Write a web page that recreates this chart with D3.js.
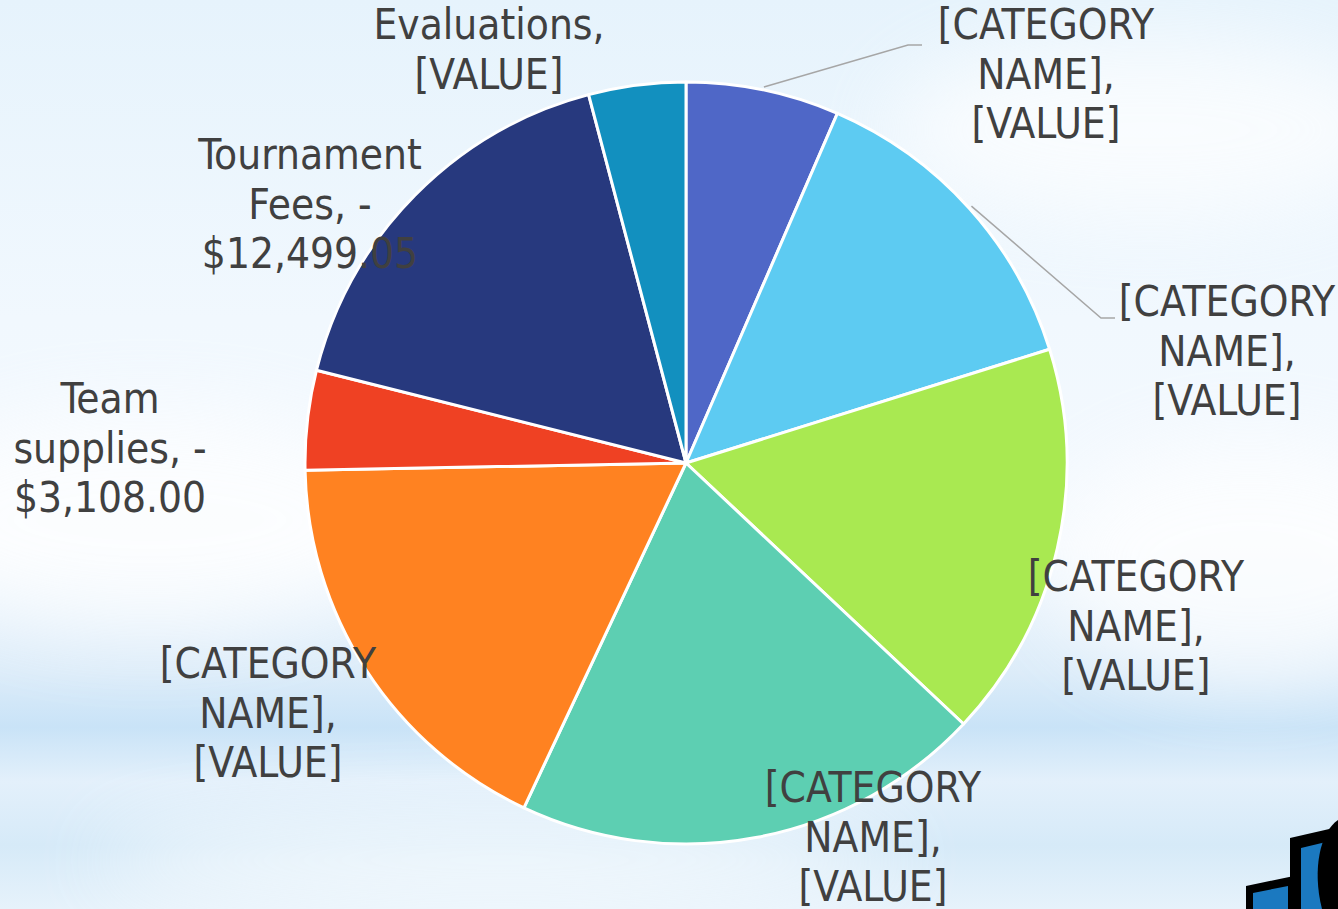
<!DOCTYPE html>
<html>
<head>
<meta charset="utf-8">
<script src="https://cdn.jsdelivr.net/npm/d3@7"></script>
<style>
  html, body { margin: 0; padding: 0; overflow: hidden; }
  svg { display: block; }
  .lbl { font-family: "Liberation Sans Narrow", "DejaVu Sans Condensed", "Open Sans", sans-serif; font-size: 42px; fill: #404040; }
</style>
</head>
<body>
<div id="chart"></div>
<script>
// slices, clockwise from 12 o'clock
const categories = ["[CATEGORY NAME]", "[CATEGORY NAME]", "[CATEGORY NAME]", "[CATEGORY NAME]",
  "[CATEGORY NAME]", "Team supplies", "Tournament Fees", "Evaluations"];
const values = [-4790, -10070, -12400, -14720, -13040, -3108.00, -12499.05, -3030];
// label text as shown (placeholders kept as in the picture)
const labelLines = [
  ["[CATEGORY", "NAME],", "[VALUE]"],
  ["[CATEGORY", "NAME],", "[VALUE]"],
  ["[CATEGORY", "NAME],", "[VALUE]"],
  ["[CATEGORY", "NAME],", "[VALUE]"],
  ["[CATEGORY", "NAME],", "[VALUE]"],
  ["Team", "supplies, -", "$3,108.00"],
  ["Tournament", "Fees, -", "$12,499.05"],
  ["Evaluations,", "[VALUE]"]
];
const colors = ["#4F67C7", "#5DCBF2", "#A9E951", "#5DCFB2", "#FF8221", "#EF4123", "#27397E", "#1290BF"];

const width = 1338, height = 909;
const cx = 686, cy = 463, radius = 381;
const lineH = 49.5;

// label anchor (centre of first line baseline) relative to pie centre
const labelOffsets = [[360, -424], [541, -147], [450, 128], [187, 339], [-418, 215], [-576, -50], [-376, -294], [-197, -424]];
// leader lines: [label side x offset, label side y offset]
const leaders = { 0: [236, -418], 1: [429, -145] };

const svg = d3.select("#chart").append("svg")
  .attr("width", width)
  .attr("height", height);

// slide background
const defs = svg.append("defs");
const bg = defs.append("linearGradient").attr("id", "bg").attr("x1", 0).attr("y1", 0).attr("x2", 0).attr("y2", 1);
[[0, "#e6f3fc"], [0.35, "#f1f8fe"], [0.6, "#f4f9fe"], [0.74, "#dcecf9"], [0.8, "#c9e3f7"], [0.86, "#e3f0fb"], [0.93, "#d6eaf8"], [1, "#e6f2fb"]]
  .forEach(s => bg.append("stop").attr("offset", s[0]).attr("stop-color", s[1]));
const blur = defs.append("filter").attr("id", "blur").attr("x", "-50%").attr("y", "-50%").attr("width", "200%").attr("height", "200%");
blur.append("feGaussianBlur").attr("stdDeviation", 40);

svg.append("rect").attr("width", width).attr("height", height).attr("fill", "url(#bg)");
const clouds = svg.append("g").attr("filter", "url(#blur)").attr("fill", "#ffffff").attr("opacity", 0.7);
clouds.append("ellipse").attr("cx", 1150).attr("cy", 130).attr("rx", 260).attr("ry", 90);
clouds.append("ellipse").attr("cx", 150).attr("cy", 520).attr("rx", 260).attr("ry", 110);
clouds.append("ellipse").attr("cx", 1250).attr("cy", 560).attr("rx", 200).attr("ry", 120);
clouds.append("ellipse").attr("cx", 500).attr("cy", 860).attr("rx", 400).attr("ry", 40);

// logo fragment, bottom right
const logo = svg.append("g");
logo.append("path").attr("d", "M1246,886 L1294,876 L1294,909 L1246,909 Z").attr("fill", "#000");
logo.append("path").attr("d", "M1253,893 L1288,886 L1288,909 L1253,909 Z").attr("fill", "#1b79c0");
logo.append("path").attr("d", "M1290,838 L1338,827 L1338,909 L1290,909 Z").attr("fill", "#000");
logo.append("path").attr("d", "M1301,848 L1326,842 L1326,909 L1301,909 Z").attr("fill", "#1b79c0");
logo.append("path").attr("d", "M1338,820 C1320,832 1312,870 1322,909 L1338,909 Z").attr("fill", "#000");

const pie = d3.pie().sort(null).value(d => Math.abs(d));
const arcs = pie(values);
const arc = d3.arc().innerRadius(0).outerRadius(radius);

const g = svg.append("g").attr("transform", `translate(${cx},${cy})`);

g.selectAll("path.slice")
  .data(arcs)
  .enter().append("path")
  .attr("class", "slice")
  .attr("d", arc)
  .attr("fill", (d, i) => colors[i])
  .attr("stroke", "#ffffff")
  .attr("stroke-width", 3)
  .attr("stroke-linejoin", "round");

// leader lines from the slice edge to the label
Object.keys(leaders).forEach(k => {
  const a = arcs[k];
  const mid = (a.startAngle + a.endAngle) / 2;
  const r = radius + 3;
  const x0 = Math.sin(mid) * r, y0 = -Math.cos(mid) * r;
  const [lx, ly] = leaders[k];
  g.append("path")
    .attr("d", `M${x0},${y0} L${lx - 14},${ly} L${lx},${ly}`)
    .attr("fill", "none")
    .attr("stroke", "#a6a6a6")
    .attr("stroke-width", 1.5);
});

const labels = g.selectAll("text.lbl")
  .data(arcs)
  .enter().append("text")
  .attr("class", "lbl")
  .attr("text-anchor", "middle")
  .attr("x", (d, i) => labelOffsets[i][0])
  .attr("y", (d, i) => labelOffsets[i][1]);

labels.each(function(d, i) {
  const t = d3.select(this);
  labelLines[i].forEach((line, j) => {
    t.append("tspan")
      .attr("x", labelOffsets[i][0])
      .attr("y", labelOffsets[i][1] + j * lineH)
      .text(line);
  });
});
</script>
</body>
</html>
